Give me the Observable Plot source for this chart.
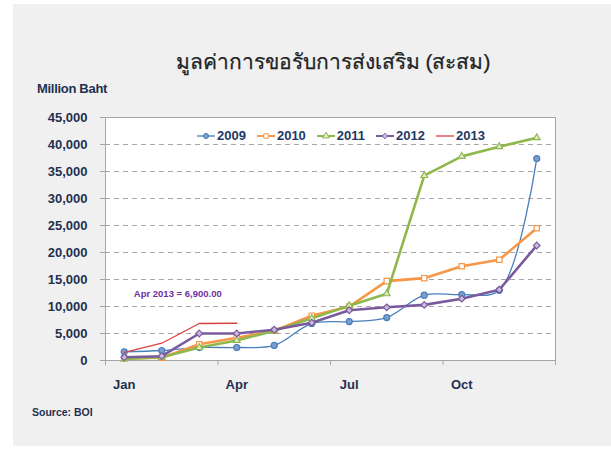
<!DOCTYPE html>
<html>
<head>
<meta charset="utf-8">
<script src="https://cdn.jsdelivr.net/npm/d3@7"></script>
<script src="https://cdn.jsdelivr.net/npm/@observablehq/plot@0.6"></script>
<style>
  html, body { margin: 0; padding: 0; background: #ffffff; }
  #wrap { position: relative; width: 611px; height: 450px; overflow: hidden; font-family: "Liberation Sans", Arial, sans-serif; }
  #panel { position: absolute; left: 13px; top: 4px; width: 598px; height: 442px; background: #f0f0f0; }
  #title { position: absolute; left: 0; width: 666px; top: 45px; text-align: center; font-size: 21px; color: #222222; font-family: "Liberation Sans", "DejaVu Sans", "Noto Sans", sans-serif; -webkit-text-stroke: 0.25px #222222; }
  #unit { position: absolute; left: 37px; top: 81px; font-size: 13px; font-weight: bold; color: #1f3050; letter-spacing: -0.3px; }
  #source { position: absolute; left: 32px; top: 406px; font-size: 10.5px; font-weight: bold; color: #1f3050; }
  #legend { position: absolute; left: 196px; top: 128px; display: flex; gap: 10px; font-size: 13px; font-weight: bold; color: #1f3864; }
  #legend .item { display: flex; align-items: center; gap: 1px; }
  #chart { position: absolute; left: 0; top: 0; }
</style>
</head>
<body>
<div id="wrap">
  <div id="panel"></div>
  <div id="chart"></div>
  <div id="title">มูลค่าการขอรับการส่งเสริม (สะสม)</div>
  <div id="unit">Million Baht</div>
  <div id="legend"></div>
  <div id="source">Source: BOI</div>
</div>
<script>
const months = ["Jan","Feb","Mar","Apr","May","Jun","Jul","Aug","Sep","Oct","Nov","Dec"];
const monthTicks = ["Jan","Apr","Jul","Oct"];
const years = ["2009","2010","2011","2012","2013"];
const v2009 = [1600, 1850, 2400, 2400, 2800, 6850, 7200, 7950, 12100, 12200, 13000, 37400];
const v2010 = [400, 500, 3000, 4200, 5500, 8300, 10000, 14700, 15250, 17450, 18650, 24500];
const v2011 = [300, 600, 2400, 3700, 5500, 7800, 10150, 12350, 34250, 37800, 39600, 41250];
const v2012 = [600, 800, 5000, 5000, 5700, 7000, 9300, 9850, 10300, 11450, 13100, 21300];
const v2013 = [1500, 3200, 6850, 6900];
const yTicks = [0,5000,10000,15000,20000,25000,30000,35000,40000,45000];
const gridValues = [5000,10000,15000,20000,25000,30000,35000,40000];
const annotationText = "Apr 2013 = 6,900.00";

const seriesValues = {"2009": v2009, "2010": v2010, "2011": v2011, "2012": v2012, "2013": v2013};
const styles = {
  "2009": {stroke: "#4a7ebb", width: 1.3, curve: "catmull-rom", symbol: "circle", r: 3, fill: "#7a9fd0", mstroke: "#4a7ebb"},
  "2010": {stroke: "#f79646", width: 2.6, curve: "linear", symbol: "square", r: 3, fill: "#ffffff", mstroke: "#f79646"},
  "2011": {stroke: "#8fb84c", width: 2.6, curve: "linear", symbol: "triangle", r: 2.5, fill: "#e2ecd0", mstroke: "#8fb84c"},
  "2012": {stroke: "#7a5a9e", width: 2.6, curve: "linear", symbol: "diamond2", r: 3, fill: "#c9bcdc", mstroke: "#7a5a9e"},
  "2013": {stroke: "#d9413f", width: 1.3, curve: "linear", symbol: null}
};

const rows = years.map(y => seriesValues[y].map((v, i) => ({year: y, i, month: months[i], v})));

const marks = [
  Plot.frame({fill: "white", stroke: "#a6a6a6"}),
  Plot.ruleY(gridValues, {stroke: "#a6a6a6", strokeDasharray: "5,4", strokeWidth: 1}),
  Plot.axisY({ticks: yTicks, tickFormat: d3.format(","), tickSize: 5, tickPadding: 13, stroke: "#a6a6a6", fill: "#1f3050", fontSize: 13, fontWeight: "bold", label: null}),
  Plot.axisX({ticks: [-0.5, 2.5, 5.5, 8.5, 11.5], tickFormat: () => "", tickSize: 5, stroke: "#a6a6a6", label: null}),
  Plot.axisX({ticks: monthTicks.map(m => months.indexOf(m)), tickFormat: i => months[i], tickSize: 0, tickPadding: 19, fill: "#1f3050", fontSize: 13, fontWeight: "bold", label: null})
];

years.forEach((y, k) => {
  const s = styles[y];
  marks.push(Plot.line(rows[k], {x: "i", y: "v", stroke: s.stroke, strokeWidth: s.width, curve: s.curve}));
  if (s.symbol) marks.push(Plot.dot(rows[k], {x: "i", y: "v", symbol: s.symbol, r: s.r, fill: s.fill, stroke: s.mstroke, strokeWidth: 1.2}));
});

marks.push(Plot.text([{i: months.indexOf("Apr"), v: v2013[3]}], {x: "i", y: "v", text: () => annotationText, dx: -59, dy: -29, fill: "#7030a0", fontSize: 9.5, fontWeight: "bold"}));

const chart = Plot.plot({
  width: 611,
  height: 450,
  marginLeft: 105,
  marginRight: 56,
  marginTop: 117,
  marginBottom: 90,
  style: {background: "transparent", fontFamily: "'Liberation Sans', Arial, sans-serif"},
  x: {type: "linear", domain: [-0.5, 11.5]},
  y: {domain: [0, 45000]},
  marks
});
document.getElementById("chart").appendChild(chart);

// Legend
const legend = d3.select("#legend");
years.forEach(y => {
  const s = styles[y];
  const item = legend.append("div").attr("class", "item");
  const svg = item.append("svg").attr("width", 20).attr("height", 10);
  svg.append("line").attr("x1", 1).attr("x2", 19).attr("y1", 5).attr("y2", 5)
    .attr("stroke", s.stroke).attr("stroke-width", Math.min(s.width, 2));
  if (s.symbol) {
    const sym = {circle: d3.symbolCircle, square: d3.symbolSquare, triangle: d3.symbolTriangle, diamond2: d3.symbolDiamond2}[s.symbol];
    svg.append("path").attr("transform", "translate(10,5)").attr("d", d3.symbol(sym, 20)())
      .attr("fill", s.fill).attr("stroke", s.mstroke).attr("stroke-width", 1);
  }
  item.append("span").text(y);
});
</script>
</body>
</html>
